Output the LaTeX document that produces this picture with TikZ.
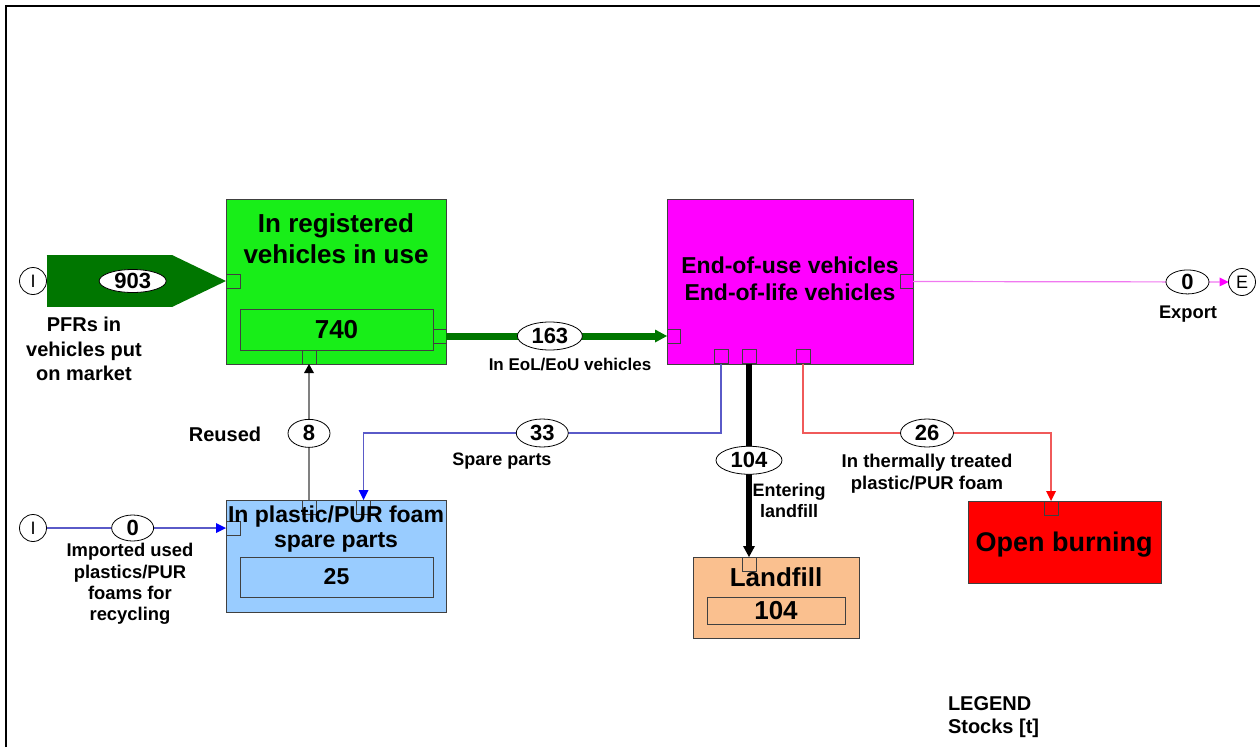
\documentclass[tikz,border=0pt]{standalone}
\usepackage{fontspec}
\setmainfont{Liberation Sans}
\usetikzlibrary{arrows.meta,shapes.geometric}

\definecolor{stockgreen}{RGB}{24,238,24}
\definecolor{flowgreen}{RGB}{0,118,0}
\definecolor{eolmag}{RGB}{255,0,255}
\definecolor{spareblue}{RGB}{153,204,255}
\definecolor{landpeach}{RGB}{250,192,143}
\definecolor{burnred}{RGB}{255,0,0}
\definecolor{boxedge}{RGB}{64,64,64}
\definecolor{sparelink}{RGB}{90,90,200}
\definecolor{burnlink}{RGB}{240,90,90}
\definecolor{exportlink}{RGB}{240,120,240}
\definecolor{reuselink}{RGB}{128,128,128}

% bold text at a given size and line spacing
\newcommand\setsz[2]{\fontsize{#1}{#2}\selectfont\bfseries}

\tikzset{
  every node/.style={inner sep=0pt, outer sep=0pt},
  procbox/.style={rectangle, draw=boxedge, line width=1pt},
  port/.style={rectangle, draw=boxedge, line width=0.8pt, minimum width=14pt, minimum height=14pt},
  flowval/.style={ellipse, draw=black, line width=0.8pt, fill=white, text=black,
                  font=\setsz{22}{24}, minimum height=28pt},
  endpt/.style={circle, draw=black, line width=0.8pt, fill=white, text=black,
                minimum size=27pt, font=\fontsize{18}{20}\selectfont},
  lbl/.style={align=center, text=black}
}

\begin{document}
\begin{tikzpicture}[x=1pt, y=-1pt]
\useasboundingbox (0,0) rectangle (1260,747);
\fill[white] (0,0) rectangle (1260,747);
\draw[line width=2pt] (6,747) -- (6,6) -- (1260,6);

% ---- vehicles in use
\node[procbox, fill=stockgreen, minimum width=220pt, minimum height=165pt] (use) at (336,281.5) {};
\node[lbl, font=\setsz{26}{31}] (usetitle) at (336,239) {In registered\\vehicles in use};
\node[procbox, fill=stockgreen, minimum width=193pt, minimum height=41pt, font=\setsz{26}{28}] (usestock) at (336.5,329.5) {740};
\node[port] (useIn) at (233,281) {};
\node[port, minimum width=13pt] (useOut) at (439.5,336) {};
\node[port] (useBack) at (309,357) {};

% ---- end-of-use / end-of-life vehicles
\node[procbox, fill=eolmag, minimum width=246pt, minimum height=165pt] (eol) at (790,281.5) {};
\node[lbl, font=\setsz{23}{27}] (eoltitle) at (790,279) {End-of-use vehicles\\End-of-life vehicles};
\node[port, minimum width=13pt] (eolIn) at (673.5,336) {};
\node[port, minimum width=13pt] (eolOut) at (906.5,281.5) {};
\node[port] (eolSpare) at (721,356.5) {};
\node[port] (eolLand) at (749,356.5) {};
\node[port] (eolBurn) at (803,356.5) {};

% ---- spare parts
\node[procbox, fill=spareblue, minimum width=220pt, minimum height=112pt] (spare) at (336,556) {};
\node[port] (spareIn) at (233,528) {};
\node[port] (spareReuse) at (309,507) {};
\node[port] (spareRet) at (363.5,507) {};
\node[lbl, font=\setsz{23}{25}] (sparetitle) at (336,529.5) {In plastic/PUR foam\\spare parts};
\node[procbox, fill=spareblue, minimum width=193pt, minimum height=40pt, font=\setsz{23}{25}] (sparestock) at (336.5,577) {25};

% ---- landfill
\node[procbox, fill=landpeach, minimum width=166pt, minimum height=81pt] (land) at (776,597.5) {};
\node[port] (landIn) at (749,564) {};
\node[font=\setsz{26}{28}] (landtitle) at (776,577.5) {Landfill};
\node[procbox, fill=landpeach, minimum width=138pt, minimum height=27pt, font=\setsz{26}{28}] (landstock) at (776,610.5) {104};

% ---- open burning
\node[procbox, fill=burnred, minimum width=193pt, minimum height=82pt] (burn) at (1064.5,542) {};
\node[port] (burnIn) at (1051,508) {};
\node[font=\setsz{27}{29}] (burntitle) at (1064,545) {Open burning};

% ---- system boundary terminals
\node[endpt] (srcA) at (33,281) {I};
\node[endpt] (srcB) at (33,528) {I};
\node[endpt] (sinkE) at (1242,282) {E};

% ---- flows
\draw[flowgreen, line width=52pt, -{Triangle[length=54pt,width=52pt,line width=0pt]}]
  (srcA.east) -- node[flowval, pos=0.48, minimum width=67pt, minimum height=23pt] (vput) {903} (useIn.west);
\node[lbl, font=\setsz{20}{24.5}] (vputlbl) at (84,349) {PFRs in\\vehicles put\\on market};

\draw[flowgreen, line width=7pt, -{Triangle[length=12pt,width=13pt,line width=0pt]}]
  (useOut.east) -- node[flowval, pos=0.47, minimum width=65pt] (veol) {163} (eolIn.west);
\node[lbl, font=\setsz{17}{20}] (veollbl) at (570,364.5) {In EoL/EoU vehicles};

\draw[exportlink, line width=1.2pt, -{Triangle[length=9pt,width=9pt,line width=0pt,color=eolmag]}]
  (eolOut.east) -- node[flowval, pos=0.87, minimum width=43pt, minimum height=24pt] (vexp) {0} (sinkE.west);
\node[lbl, font=\setsz{18.3}{20}] (vexplbl) at (1188,314) {Export};

\draw[black, line width=6pt, -{Triangle[length=11pt,width=12pt,line width=0pt]}]
  (eolLand.south) -- node[flowval, pos=0.5, minimum width=66pt] (vland) {104} (landIn.north);
\node[lbl, font=\setsz{18}{21}] (vlandlbl) at (789,500.5) {Entering\\landfill};

\coordinate (split) at (0,433);
\draw[sparelink, line width=1.2pt, -{Triangle[length=10pt,width=10pt,line width=0pt,color=blue]}]
  (eolSpare.south) -- (eolSpare.south |- split)
  -- node[flowval, minimum width=52pt] (vspare) {33} (spareRet.north |- split) -- (spareRet.north);
\node[lbl, font=\setsz{18}{20}] (vsparelbl) at (502,461) {Spare parts};

\draw[burnlink, line width=1.2pt, -{Triangle[length=10pt,width=10pt,line width=0pt,color=red]}]
  (eolBurn.south) -- (eolBurn.south |- split)
  -- node[flowval, minimum width=53pt] (vburn) {26} (burnIn.north |- split) -- (burnIn.north);
\node[lbl, font=\setsz{18.5}{22}] (vburnlbl) at (927,474) {In thermally treated\\plastic/PUR foam};

\draw[reuselink, line width=2pt, -{Triangle[length=9pt,width=10pt,line width=0pt,color=black]}]
  (spareReuse.north) -- node[flowval, pos=0.49, minimum width=42pt, minimum height=28pt] (vreuse) {8} (useBack.south);
\node[lbl, font=\setsz{20}{22}] (vreuselbl) at (225,434) {Reused};

\draw[sparelink, line width=1.2pt, -{Triangle[length=10pt,width=10pt,line width=0pt,color=blue]}]
  (srcB.east) -- node[flowval, pos=0.48, minimum width=42pt, minimum height=26pt] (vimp) {0} (spareIn.west);
\node[lbl, font=\setsz{18.4}{21.4}] (vimplbl) at (130,584) {Imported used\\plastics/PUR\\foams for\\recycling};

% ---- legend
\node[align=left, anchor=west, font=\setsz{20}{23}] (legend) at (948,717) {LEGEND\\Stocks [t]};
\end{tikzpicture}
\end{document}
